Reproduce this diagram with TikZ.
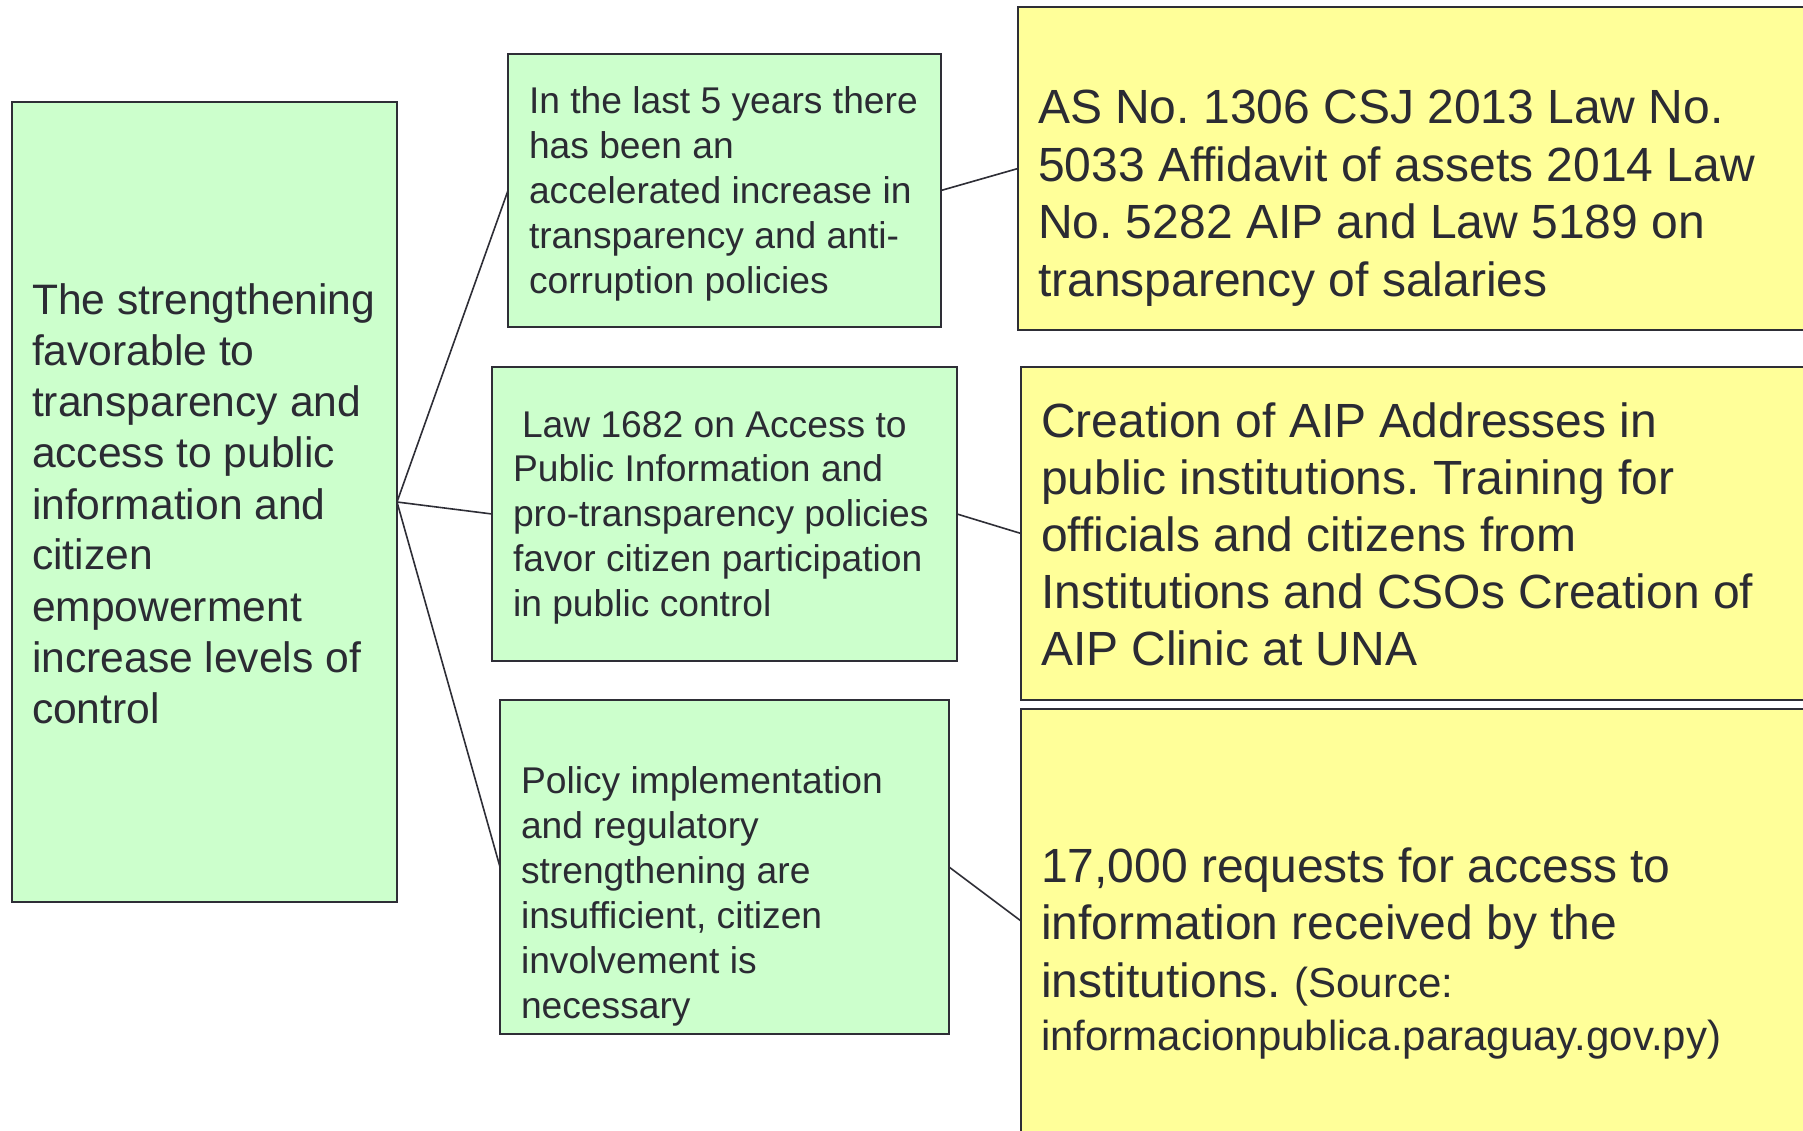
\documentclass[tikz,border=0pt]{standalone}
\usepackage{fontspec}
\setmainfont{Liberation Sans}
\frenchspacing
\definecolor{gfill}{HTML}{CCFFCC}
\definecolor{yfill}{HTML}{FFFF99}
\definecolor{edge}{HTML}{2E2E36}
\definecolor{ink}{HTML}{2B2B33}
\begin{document}
\begin{tikzpicture}[x=1pt,y=-1pt,
  gbox/.style={draw=edge,line width=2pt,fill=gfill,rectangle,inner sep=0pt,outer sep=0pt,anchor=north west},
  ybox/.style={draw=edge,line width=2pt,fill=yfill,rectangle,inner sep=0pt,outer sep=0pt,anchor=north west},
  txt/.style={inner sep=0pt,outer sep=0pt,anchor=base west,text=ink},
  link/.style={draw=edge,line width=1.6pt}]
\useasboundingbox (0,0) rectangle (1803,1131);
\clip (0,0) rectangle (1803,1131);
\fill[white] (0,0) rectangle (1803,1131);
% boxes
\node[gbox,minimum width=385pt,minimum height=800pt] (L) at (12,102) {};
\node[gbox,minimum width=433pt,minimum height=273pt] (A) at (508,54) {};
\node[gbox,minimum width=465pt,minimum height=294pt] (B) at (492,367) {};
\node[gbox,minimum width=449pt,minimum height=334pt] (C) at (500,700) {};
\node[ybox,minimum width=812pt,minimum height=323pt] (Y1) at (1018,7) {};
\node[ybox,minimum width=809pt,minimum height=333pt] (Y2) at (1021,367) {};
\node[ybox,minimum width=809pt,minimum height=424pt] (Y3) at (1021,709) {};
% connectors
\draw[link] (L.east) -- (A.west);
\draw[link] (L.east) -- (B.west);
\draw[link] (L.east) -- (C.west);
\draw[link] (A.east) -- (Y1.west);
\draw[link] (B.east) -- (Y2.west);
\draw[link] (C.east) -- (Y3.west);
% texts
\node[txt] (tL) at (32,315) {\parbox[t]{360pt}{\frenchspacing\fontsize{42.6}{51}\selectfont
The strengthening\\favorable to\\transparency and\\access to public\\information and\\citizen\\empowerment\\increase levels of\\control}};
\node[txt] (tA) at (529,114) {\parbox[t]{410pt}{\frenchspacing\fontsize{37.2}{44.8}\selectfont
In the last 5 years there\\has been an\\accelerated increase in\\transparency and anti-\\corruption policies}};
\node[txt] (tB) at (513,437) {\parbox[t]{440pt}{\frenchspacing\fontsize{37.2}{44.8}\selectfont
\hspace*{9pt}Law 1682 on Access to\\Public Information and\\pro-transparency policies\\favor citizen participation\\in public control}};
\node[txt] (tC) at (521,793) {\parbox[t]{420pt}{\frenchspacing\fontsize{37.2}{45}\selectfont
Policy implementation\\and regulatory\\strengthening are\\insufficient, citizen\\involvement is\\necessary}};
\node[txt] (tY1) at (1038,124) {\parbox[t]{760pt}{\frenchspacing\fontsize{48}{57.4}\selectfont
AS No. 1306 CSJ 2013 Law No.\\5033 Affidavit of assets 2014 Law\\No. 5282 AIP and Law 5189 on\\transparency of salaries}};
\node[txt] (tY2) at (1041,437) {\parbox[t]{760pt}{\frenchspacing\fontsize{48}{57}\selectfont
Creation of AIP Addresses in\\public institutions. Training for\\officials and citizens from\\Institutions and CSOs Creation of\\AIP Clinic at UNA}};
\node[txt] (tY3) at (1041,882) {\parbox[t]{760pt}{\frenchspacing\fontsize{48}{57.5}\selectfont
17,000 requests for access to\\information received by the\\institutions. {\fontsize{42}{57.5}\selectfont (Source:}\\[-4.5pt]{\fontsize{42}{57.5}\selectfont informacionpublica.paraguay.gov.py)}}};
\end{tikzpicture}
\end{document}
